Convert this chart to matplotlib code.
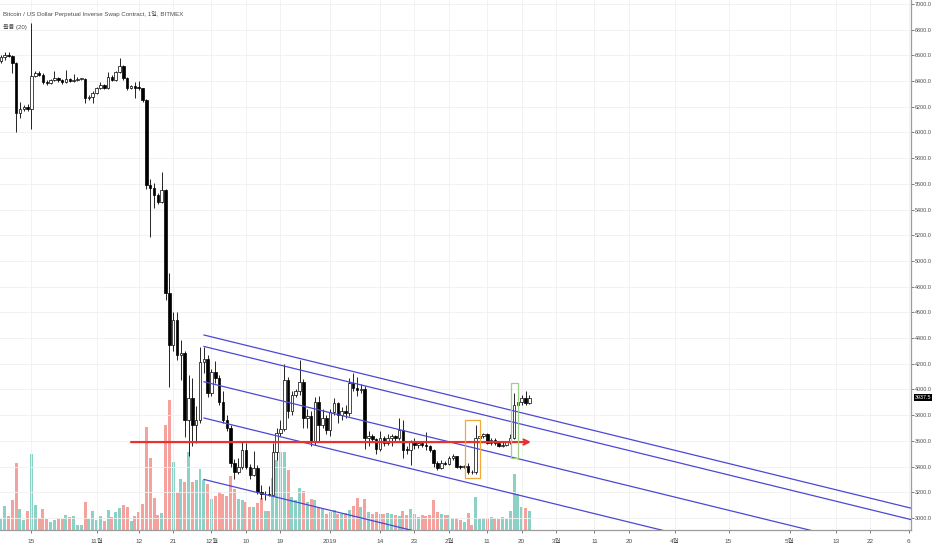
import numpy as np
import pandas as pd
import matplotlib
matplotlib.use("Agg")
import matplotlib.pyplot as plt
import matplotlib.dates as mdates
import matplotlib.transforms as mtransforms
from matplotlib.patches import Rectangle

plt.rcParams['font.family'] = ['Liberation Sans', 'Noto Sans CJK KR', 'DejaVu Sans']

# BitMEX XBTUSD daily candles, 2018-10-07 .. 2019-02-22
dates = pd.date_range('2018-10-07', '2019-02-22', freq='D')

opens = [
    # Oct 7-31
    6560, 6585, 6605, 6598, 6540, 6155, 6185, 6198, 6185, 6440, 6465, 6450, 6396,
    6385, 6410, 6425, 6405, 6390, 6415, 6400, 6410, 6415, 6418, 6266, 6275,
    # Nov
    6310, 6344, 6370, 6350, 6434, 6410, 6473, 6518, 6422, 6344, 6360, 6350, 6345,
    6253, 5591, 5570, 5513, 5462, 5552, 4748, 4346, 4541, 4268, 4281, 3763, 3931,
    3724, 3763, 4216, 4237,
    # Dec
    3970, 4133, 4092, 3905, 3763, 3698, 3425, 3360, 3399, 3529, 3399, 3335, 3390,
    3205, 3184, 3190, 3180, 3510, 3660, 3690, 4074, 3830, 3960, 3985, 4060, 3775,
    3795, 3594, 3905, 3724, 3775,
    # Jan
    3685, 3827, 3892, 3801, 3830, 3815, 4048, 4009, 3995, 4005, 3620, 3635, 3615,
    3540, 3625, 3580, 3620, 3635, 3620, 3685, 3530, 3528, 3594, 3570, 3580, 3565,
    3560, 3530, 3426, 3387, 3430,
    # Feb 1-22
    3420, 3465, 3480, 3400, 3395, 3405, 3361, 3355, 3620, 3635, 3651, 3587, 3605,
    3585, 3560, 3570, 3590, 3620, 3880, 3906, 3931, 3893,
]
highs = [
    6600, 6630, 6625, 6605, 6545, 6240, 6215, 6225, 6850, 6480, 6475, 6460, 6405,
    6420, 6480, 6435, 6420, 6490, 6425, 6455, 6430, 6425, 6425, 6290, 6320,
    6355, 6395, 6380, 6473, 6445, 6480, 6580, 6525, 6430, 6370, 6390, 6400, 6350,
    6260, 5640, 5610, 5530, 5695, 5560, 4904, 4606, 4600, 4385, 4300, 4113, 4090,
    3870, 4330, 4330, 4270,
    4160, 4220, 4110, 3990, 3800, 3720, 3460, 3470, 3600, 3580, 3420, 3520, 3410,
    3260, 3210, 3250, 3580, 3700, 3760, 4200, 4100, 3990, 4000, 4229, 4080, 3850,
    3830, 3940, 3950, 3850, 3800,
    3850, 3930, 3900, 3860, 3880, 4090, 4126, 4100, 4040, 4030, 3680, 3650, 3625,
    3680, 3640, 3650, 3650, 3645, 3775, 3760, 3560, 3607, 3620, 3595, 3590, 3672,
    3570, 3540, 3440, 3455, 3445,
    3480, 3500, 3485, 3415, 3415, 3430, 3375, 3724, 3650, 3665, 3660, 3620, 3620,
    3595, 3590, 3600, 3650, 3970, 3990, 3960, 3990, 3960,
]
lows = [
    6540, 6565, 6585, 6460, 6005, 6110, 6170, 6170, 6030, 6430, 6440, 6380, 6370,
    6380, 6400, 6395, 6375, 6385, 6390, 6390, 6400, 6405, 6230, 6255, 6230,
    6300, 6335, 6340, 6340, 6400, 6400, 6465, 6410, 6330, 6340, 6265, 6330, 6240,
    5560, 5190, 5410, 5440, 5450, 4700, 4022, 4300, 4230, 4075, 3633, 3480, 3560,
    3580, 3740, 4130, 3940,
    3950, 4050, 3880, 3740, 3680, 3400, 3300, 3340, 3380, 3380, 3300, 3330, 3190,
    3150, 3140, 3170, 3175, 3450, 3640, 3680, 3775, 3800, 3940, 3960, 3700, 3700,
    3560, 3570, 3600, 3700, 3650,
    3640, 3800, 3740, 3760, 3780, 3790, 3990, 3950, 3975, 3540, 3560, 3590, 3500,
    3520, 3560, 3570, 3560, 3590, 3610, 3465, 3500, 3413, 3540, 3545, 3550, 3530,
    3510, 3400, 3370, 3380, 3410,
    3410, 3450, 3390, 3385, 3390, 3340, 3345, 3345, 3600, 3620, 3575, 3570, 3570,
    3550, 3550, 3560, 3575, 3615, 3850, 3880, 3880, 3885,
]
closes = [
    6585, 6605, 6598, 6540, 6155, 6185, 6198, 6185, 6440, 6465, 6450, 6396, 6385,
    6410, 6425, 6405, 6390, 6415, 6400, 6410, 6415, 6418, 6266, 6275, 6310,
    6344, 6370, 6350, 6434, 6410, 6473, 6518, 6422, 6344, 6360, 6350, 6345, 6253,
    5591, 5570, 5513, 5462, 5552, 4748, 4346, 4541, 4268, 4281, 3763, 3931, 3724,
    3763, 4216, 4237, 3970,
    4133, 4092, 3905, 3763, 3698, 3425, 3360, 3399, 3529, 3399, 3335, 3390, 3205,
    3184, 3190, 3180, 3510, 3660, 3690, 4074, 3830, 3960, 3985, 4060, 3775, 3795,
    3594, 3905, 3724, 3775, 3685,
    3827, 3892, 3801, 3830, 3815, 4048, 4009, 3995, 4005, 3620, 3635, 3615, 3540,
    3625, 3580, 3620, 3635, 3620, 3685, 3530, 3528, 3594, 3570, 3580, 3565, 3560,
    3530, 3426, 3387, 3430, 3420,
    3465, 3480, 3400, 3395, 3405, 3361, 3355, 3620, 3635, 3651, 3587, 3605, 3585,
    3560, 3570, 3590, 3620, 3880, 3906, 3931, 3893, 3937.5,
]
volumes = [
    11, 24, 14, 30, 67, 21, 10, 19, 76, 25, 12, 21, 11, 8, 10, 12, 11, 15, 13, 14,
    5, 5, 28, 11, 19,
    10, 14, 9, 20, 13, 18, 22, 25, 23, 9, 14, 18, 26, 103, 72, 32, 15, 17, 105, 130,
    68, 37, 51, 48, 78, 48, 50, 61, 50, 46,
    31, 34, 38, 36, 34, 54, 41, 31, 30, 28, 23, 23, 27, 32, 19, 19, 52, 70, 78, 78,
    60, 33, 30, 42, 39, 28, 31, 30, 23, 22, 16,
    18, 20, 16, 16, 17, 20, 24, 32, 23, 31, 18, 16, 18, 16, 16, 17, 16, 15, 14, 19,
    15, 21, 16, 13, 15, 14, 15, 30, 18, 16, 15,
    15, 12, 12, 10, 8, 17, 5, 33, 11, 12, 12, 13, 12, 11, 13, 11, 19, 56, 36, 23,
    22, 19,
]

# axis ticks
price_ticks = list(range(3000, 7001, 200))
tick_dates = ['2018-10-15', '2018-11-01', '2018-11-12', '2018-11-21', '2018-12-01',
              '2018-12-10', '2018-12-19', '2019-01-01', '2019-01-14', '2019-01-23',
              '2019-02-01', '2019-02-11', '2019-02-20', '2019-03-01', '2019-03-11',
              '2019-03-20', '2019-04-01', '2019-04-15', '2019-05-01', '2019-05-13',
              '2019-05-22', '2019-06-01']
tick_labels = ['15', '11월', '12', '21', '12월', '10', '19', '2019', '14', '23',
               '2월', '11', '20', '3월', '11', '20', '4월', '15', '5월', '13', '22', '6']

# drawings on the chart
support_price = 3591
support_dates = ['2018-11-10 00:00', '2019-02-22 10:00']
channel_dates = ['2018-11-29 01:00', '2019-06-02 00:00']
channel_start = [4424, 4335, 4060, 3778, 3300]
channel_end = [3074, 2985, 2710, 2428, 1950]
orange_box = (['2019-02-05 05:00', '2019-02-09 02:00'], [3311, 3763])
green_box = (['2019-02-17 05:00', '2019-02-19 00:00'], [3467, 4051])

title = 'Bitcoin / US Dollar Perpetual Inverse Swap Contract, 1일, BITMEX'
vol_title = '볼륨 (20)'


def to_num(values):
    return mdates.date2num(pd.to_datetime(values, format='ISO8601'))


# ---------------------------------------------------------------
W, H = 932, 550
fig = plt.figure(figsize=(W / 100, H / 100), dpi=100)
fig.patch.set_facecolor('white')
ax = fig.add_axes([0, 20 / H, 911 / W, 530 / H])
ax_vol = ax.twinx()
ax.set_zorder(ax_vol.get_zorder() + 1)
ax.patch.set_visible(False)

x = mdates.date2num(dates)
o = np.array(opens, dtype=float)
h = np.array(highs, dtype=float)
l = np.array(lows, dtype=float)
c = np.array(closes, dtype=float)
up = c >= o

# volume pane
vol_colors = np.where(up, '#8bd1c5', '#f5a19e')
ax_vol.bar(x, volumes, width=0.78, color=vol_colors, linewidth=0)
ax_vol.set_ylim(0, max(volumes) / 0.245)
ax_vol.axis('off')

# candles
ax.vlines(x, l, h, color='black', linewidth=0.6, zorder=2)
body_low = np.minimum(o, c)
body_h = np.maximum(np.abs(c - o), 6)
ax.bar(x, body_h, bottom=body_low, width=0.66,
       color=np.where(up, 'white', 'black'), edgecolor='black',
       linewidth=0.5, zorder=3)

# channel lines
cd = to_num(channel_dates)
for p0, p1 in zip(channel_start, channel_end):
    ax.plot(cd, [p0, p1], color='#4b48d6', linewidth=0.9, zorder=4)

# support arrow
sd = to_num(support_dates)
ax.annotate('', xy=(sd[1], support_price), xytext=(sd[0], support_price),
            arrowprops=dict(arrowstyle='->', color='#e8322f', lw=1.6,
                            mutation_scale=9, shrinkA=0, shrinkB=0),
            zorder=5)

# highlight boxes
for (bx, by), col in [(orange_box, '#f2a93b'), (green_box, '#9fd08a')]:
    bxn = to_num(bx)
    ax.add_patch(Rectangle((bxn[0], by[0]), bxn[1] - bxn[0], by[1] - by[0],
                           fill=False, edgecolor=col, linewidth=0.9, zorder=5))

# axes / ticks
ref = mdates.date2num(pd.Timestamp('2018-10-15'))
ax.set_xlim(ref - 8.22, ref + 229.64)
ax.set_ylim(2906.6, 7031)

ax.yaxis.tick_right()
ax.set_yticks(price_ticks)
ax.set_yticklabels([f'{p:.1f}' for p in price_ticks])
ax.tick_params(axis='y', labelsize=3.9, colors='#4a4a4a', length=2,
               width=0.5, pad=1)
ax.set_xticks(to_num(tick_dates))
ax.set_xticklabels(tick_labels)
ax.tick_params(axis='x', labelsize=4.6, colors='#4a4a4a', length=2.5,
               width=0.5, pad=4)

ax.grid(True, color='#f0f0f0', linewidth=0.6, zorder=0)
ax.set_axisbelow(True)
for side in ['left', 'top']:
    ax.spines[side].set_visible(False)
for side in ['right', 'bottom']:
    ax.spines[side].set_color('#9c9c9c')
    ax.spines[side].set_linewidth(0.9)

# last price tag
blend = mtransforms.blended_transform_factory(ax.transAxes, ax.transData)
ax.text(1.004, closes[-1], f'{closes[-1]:.1f}', transform=blend, ha='left',
        va='center', fontsize=3.9, color='white', clip_on=False, zorder=10,
        bbox=dict(boxstyle='square,pad=0.2', facecolor='black', edgecolor='none'))

# header texts
fig.text(3 / W, 1 - 14 / H, title, fontsize=4.4, color='#4d4d4d', va='center')
fig.text(3 / W, 1 - 27 / H, vol_title, fontsize=4.4, color='#4d4d4d', va='center')

fig.savefig('out.png', dpi=100, facecolor='white')
